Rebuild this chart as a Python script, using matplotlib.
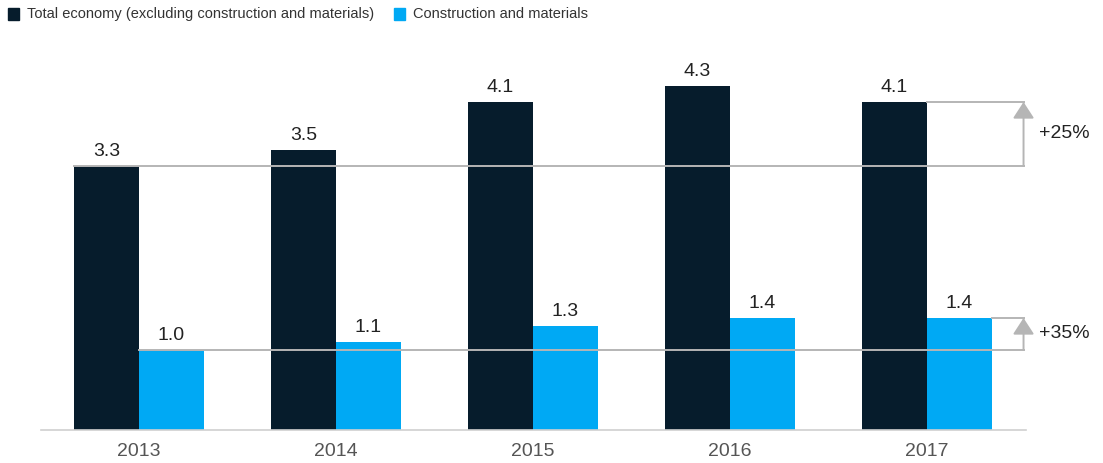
import numpy as np
import matplotlib.pyplot as plt
from matplotlib.patches import Rectangle

plt.rcParams['font.family'] = ['Liberation Sans', 'DejaVu Sans']

years = ['2013', '2014', '2015', '2016', '2017']
total_economy = [3.3, 3.5, 4.1, 4.3, 4.1]
construction = [1.0, 1.1, 1.3, 1.4, 1.4]
growth_labels = ['+25%', '+35%']

dark = '#061c2c'
blue = '#00a9f4'
grey = '#b5b5b5'

fig = plt.figure(figsize=(11.03, 4.63), dpi=100)
ax = fig.add_axes([40.5 / 1103, 33 / 463, 985 / 1103, 400 / 463])

x = np.arange(len(years))
w = 0.33
ax.bar(x - w / 2, total_economy, w, color=dark, zorder=2)
ax.bar(x + w / 2, construction, w, color=blue, zorder=2)

# value labels above the bars
for i in range(len(years)):
    ax.text(x[i] - w / 2, total_economy[i] + 0.07, f'{total_economy[i]:.1f}',
            ha='center', va='bottom', fontsize=14, color='#222222')
    ax.text(x[i] + w / 2, construction[i] + 0.07, f'{construction[i]:.1f}',
            ha='center', va='bottom', fontsize=14, color='#222222')

# growth brackets from 2013 to 2017
xa = 4.49
ax.plot([x[0] - w, xa], [total_economy[0]] * 2, color=grey, lw=1.4, zorder=3)
ax.plot([x[-1], xa], [total_economy[-1]] * 2, color=grey, lw=1.4, zorder=3)
ax.plot([x[0], xa], [construction[0]] * 2, color=grey, lw=1.4, zorder=3)
ax.plot([x[-1] + w, xa], [construction[-1]] * 2, color=grey, lw=1.4, zorder=3)

for lo, hi, lab in [(total_economy[0], total_economy[-1], growth_labels[0]),
                    (construction[0], construction[-1], growth_labels[1])]:
    ax.annotate('', xy=(xa, hi), xytext=(xa, lo),
                arrowprops=dict(arrowstyle='-|>,head_length=1.0,head_width=0.65',
                                color=grey, lw=1.4, shrinkA=0, shrinkB=0),
                annotation_clip=False)
    ax.text(xa + 0.08, (lo + hi) / 2, lab, ha='left', va='center',
            fontsize=14, color='#222222', clip_on=False)

ax.set_xlim(-0.5, 4.5)
ax.set_ylim(0, 5)
ax.set_xticks(x)
ax.set_xticklabels(years, fontsize=14, color='#555555')
ax.tick_params(axis='x', length=0, pad=9)
ax.set_yticks([])
for s in ['top', 'right', 'left']:
    ax.spines[s].set_visible(False)
ax.spines['bottom'].set_color('#d0d0d0')
ax.spines['bottom'].set_linewidth(1.2)

# legend along the top
fig.patches.append(Rectangle((8 / 1103, 1 - 20 / 463), 11 / 1103, 12 / 463,
                             transform=fig.transFigure, color=dark))
fig.text(27 / 1103, 1 - 14 / 463, 'Total economy (excluding construction and materials)',
         ha='left', va='center', fontsize=10.5, color='#333333')
fig.patches.append(Rectangle((394 / 1103, 1 - 20 / 463), 11 / 1103, 12 / 463,
                             transform=fig.transFigure, color=blue))
fig.text(413 / 1103, 1 - 14 / 463, 'Construction and materials',
         ha='left', va='center', fontsize=10.5, color='#333333')

plt.savefig('out.png', dpi=100)
